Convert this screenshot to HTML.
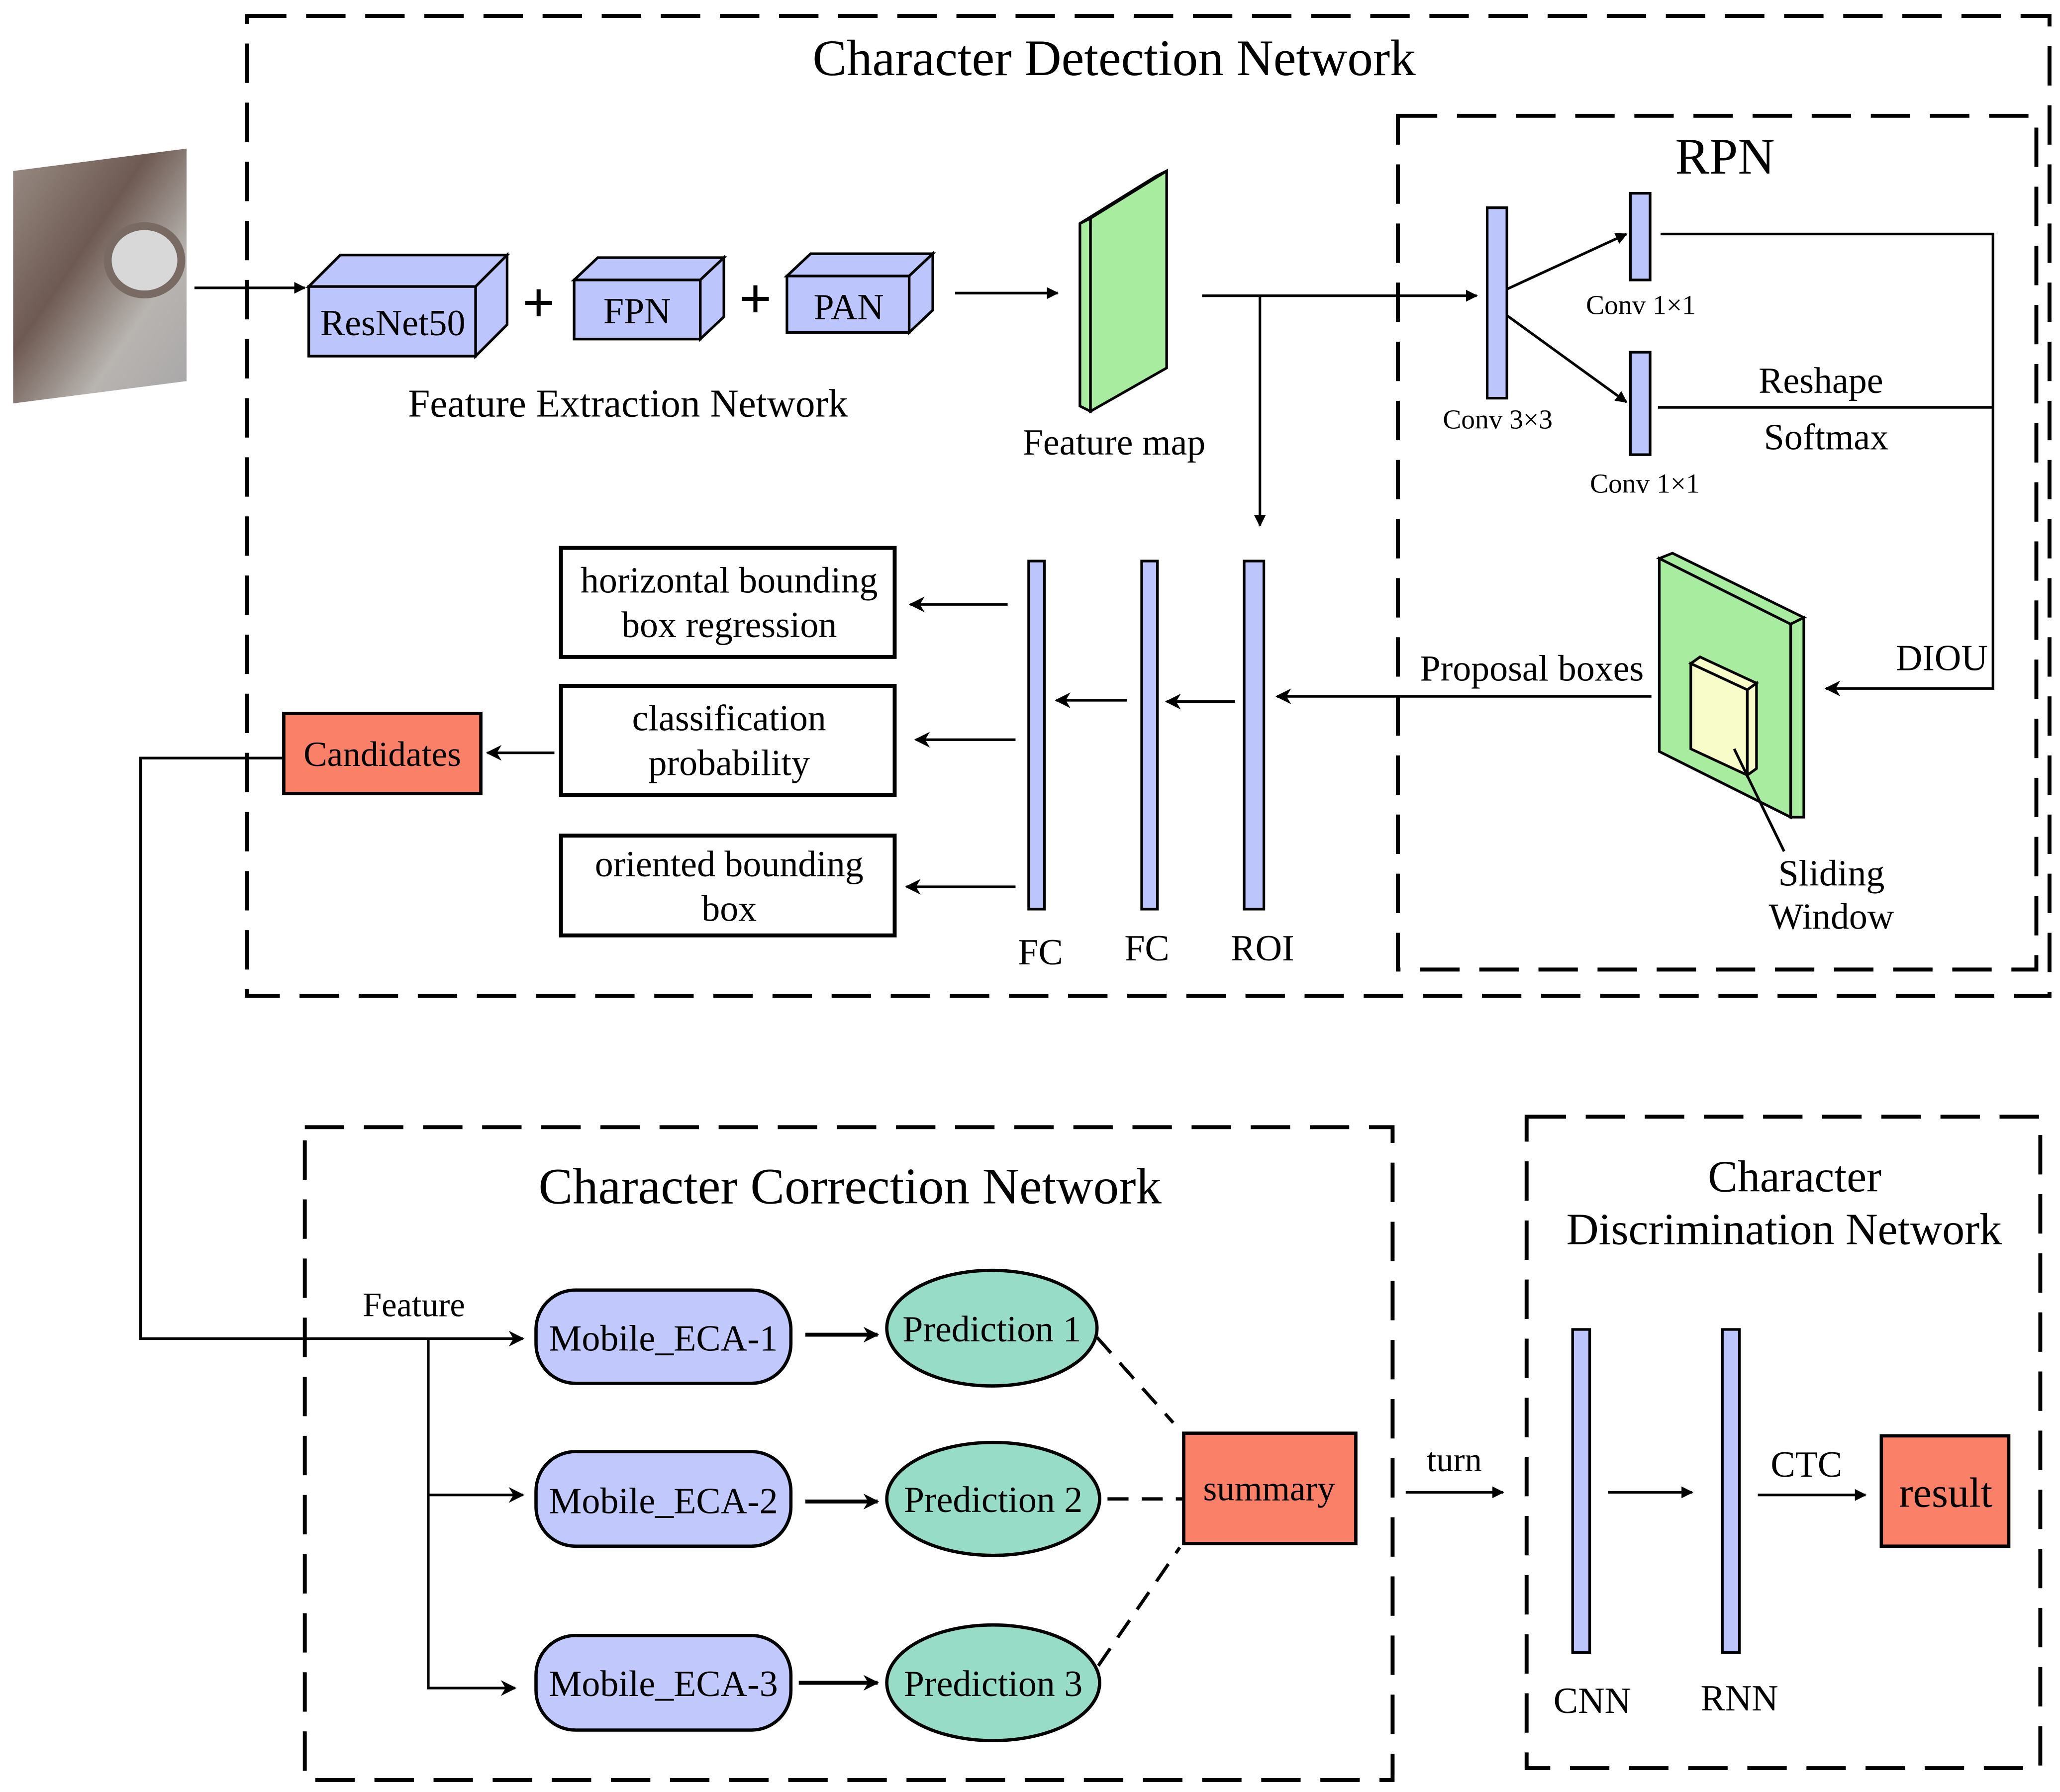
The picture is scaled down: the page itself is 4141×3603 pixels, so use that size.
<!DOCTYPE html>
<html><head><meta charset="utf-8"><style>
html,body{margin:0;padding:0;background:#fff;}
svg{display:block;}
text{font-family:"Liberation Serif",serif;fill:#000;}
</style></head><body>
<svg width="4141" height="3603" viewBox="0 0 1568 1364" xmlns="http://www.w3.org/2000/svg">
<defs>
<marker id="a" viewBox="0 0 10 10" refX="9" refY="5" markerWidth="9" markerHeight="9" markerUnits="userSpaceOnUse" orient="auto"><path d="M0,0 L10,5 L0,10 z" fill="#000"/></marker>
<marker id="b" viewBox="0 0 10 10" refX="9" refY="5" markerWidth="14" markerHeight="12" markerUnits="userSpaceOnUse" orient="auto"><path d="M0,0 L10,5 L0,10 L3,5 z" fill="#000"/></marker>
<linearGradient id="ph" x1="0" y1="0" x2="1" y2="1"><stop offset="0" stop-color="#9a8e86"/><stop offset="0.4" stop-color="#6e5a52"/><stop offset="0.7" stop-color="#b8b4b0"/><stop offset="1" stop-color="#a8a6a8"/></linearGradient>
</defs>
<g fill="none" stroke="#000" stroke-width="3" stroke-dasharray="30 15">
<rect x="188" y="12" width="1372" height="746"/>
<rect x="1064" y="88" width="486" height="650"/>
<rect x="232" y="858" width="828" height="497"/>
<rect x="1162" y="850" width="391" height="496"/>
</g>
<text x="848" y="57" font-size="39" text-anchor="middle">Character Detection Network</text>
<text x="1313" y="132" font-size="39" text-anchor="middle">RPN</text>
<polygon points="10,130 142,113 142,290 10,307" fill="url(#ph)"/>
<ellipse cx="110" cy="198" rx="28" ry="26" fill="#d8d8d8" stroke="#7a6a64" stroke-width="6"/>
<g stroke="#000" stroke-width="2" fill="none">
<line x1="148" y1="219" x2="232" y2="219" marker-end="url(#a)"/>
<line x1="727" y1="223" x2="805" y2="223" marker-end="url(#a)"/>
<line x1="915" y1="225" x2="1124" y2="225" marker-end="url(#a)"/>
<line x1="959" y1="225" x2="959" y2="400" marker-end="url(#a)"/>
<line x1="1147" y1="220" x2="1238" y2="178" marker-end="url(#a)"/>
<line x1="1147" y1="240" x2="1238" y2="306" marker-end="url(#a)"/>
<polyline points="1264,178 1517,178 1517,524 1390,524" marker-end="url(#b)"/>
<line x1="1262" y1="310" x2="1517" y2="310"/>
<line x1="1257" y1="530" x2="972" y2="530" marker-end="url(#b)"/>
<line x1="940" y1="534" x2="888" y2="534" marker-end="url(#b)"/>
<line x1="858" y1="533" x2="804" y2="533" marker-end="url(#b)"/>
<line x1="767" y1="460" x2="693" y2="460" marker-end="url(#b)"/>
<line x1="773" y1="563" x2="697" y2="563" marker-end="url(#b)"/>
<line x1="773" y1="675" x2="690" y2="675" marker-end="url(#b)"/>
<line x1="422" y1="573" x2="371" y2="573" marker-end="url(#b)"/>
<polyline points="216,577 107,577 107,1019 398,1019" marker-end="url(#b)"/>
<polyline points="326,1019 326,1285 392,1285" marker-end="url(#b)"/>
<line x1="326" y1="1138" x2="398" y2="1138" marker-end="url(#b)"/>
<line x1="613" y1="1016" x2="668" y2="1016" stroke-width="3" marker-end="url(#b)"/>
<line x1="613" y1="1143" x2="668" y2="1143" stroke-width="3" marker-end="url(#b)"/>
<line x1="608" y1="1281" x2="668" y2="1281" stroke-width="3" marker-end="url(#b)"/>
<line x1="1070" y1="1136" x2="1144" y2="1136" marker-end="url(#a)"/>
<line x1="1224" y1="1136" x2="1288" y2="1136" marker-end="url(#a)"/>
<line x1="1338" y1="1138" x2="1420" y2="1138" marker-end="url(#a)"/>
<line x1="1320" y1="570" x2="1358" y2="648"/>
</g>
<g stroke="#000" stroke-width="2.5" stroke-dasharray="16 10" fill="none">
<line x1="835" y1="1018" x2="893" y2="1083"/>
<line x1="843" y1="1141" x2="900" y2="1141"/>
<line x1="836" y1="1268" x2="898" y2="1178"/>
</g>
<g fill="#bcc6fc" stroke="#000" stroke-width="2">
<polygon points="235,218 259,194 386,194 362,218"/><polygon points="362,218 386,194 386,247 362,271"/><rect x="235" y="218" width="127" height="53"/>
<polygon points="437,213 455,196 551,196 533,213"/><polygon points="533,213 551,196 551,241 533,258"/><rect x="437" y="213" width="96" height="45"/>
<polygon points="599,210 617,193 710,193 692,210"/><polygon points="692,210 710,193 710,236 692,253"/><rect x="599" y="210" width="93" height="43"/>
<rect x="1132" y="158" width="15" height="145"/>
<rect x="1241" y="147" width="15" height="66"/>
<rect x="1241" y="268" width="15" height="78"/>
<rect x="947" y="427" width="15" height="265"/>
<rect x="869" y="427" width="12" height="265"/>
<rect x="783" y="427" width="12" height="265"/>
<rect x="1197" y="1012" width="13" height="246"/>
<rect x="1311" y="1012" width="13" height="246"/>
</g>
<text x="299" y="255" font-size="28" text-anchor="middle">ResNet50</text>
<text x="485" y="246" font-size="28" text-anchor="middle">FPN</text>
<text x="646" y="243" font-size="28" text-anchor="middle">PAN</text>
<text x="410" y="245" font-size="44" font-weight="bold" text-anchor="middle">+</text>
<text x="575" y="242" font-size="44" font-weight="bold" text-anchor="middle">+</text>
<text x="478" y="317" font-size="30" text-anchor="middle">Feature Extraction Network</text>
<g fill="#a8eca0" stroke="#000" stroke-width="2">
<polygon points="830,166 888,130 888,280 830,313"/>
<polygon points="822,170 830,166 830,313 822,309"/>
<polygon points="822,170 880,134 888,130 830,166"/>
</g>
<text x="848" y="346" font-size="28" text-anchor="middle">Feature map</text>
<text x="1140" y="326" font-size="21" text-anchor="middle">Conv 3×3</text>
<text x="1249" y="239" font-size="21" text-anchor="middle">Conv 1×1</text>
<text x="1252" y="375" font-size="21" text-anchor="middle">Conv 1×1</text>
<text x="1386" y="299" font-size="28" text-anchor="middle">Reshape</text>
<text x="1390" y="342" font-size="28" text-anchor="middle">Softmax</text>
<text x="1478" y="510" font-size="28" text-anchor="middle">DIOU</text>
<g stroke="#000" stroke-width="2">
<polygon points="1263,425 1363,475 1363,622 1263,572" fill="#a8eca0"/>
<polygon points="1263,425 1273,421 1373,470 1363,475" fill="#a8eca0"/>
<polygon points="1363,475 1373,470 1373,622 1363,622" fill="#a8eca0"/>
<polygon points="1287,505 1330,525 1330,590 1287,570" fill="#f8fcc8"/>
<polygon points="1287,505 1294,500 1337,520 1330,525" fill="#f8fcc8"/>
<polygon points="1330,525 1337,520 1337,585 1330,590" fill="#f8fcc8"/>
</g>
<line x1="1320" y1="570" x2="1358" y2="648" stroke="#000" stroke-width="2"/>
<text x="1394" y="674" font-size="28" text-anchor="middle">Sliding</text>
<text x="1394" y="707" font-size="28" text-anchor="middle">Window</text>
<text x="1166" y="518" font-size="28" text-anchor="middle">Proposal boxes</text>
<text x="961" y="731" font-size="28" text-anchor="middle">ROI</text>
<text x="873" y="731" font-size="28" text-anchor="middle">FC</text>
<text x="792" y="734" font-size="28" text-anchor="middle">FC</text>
<g fill="#fff" stroke="#000" stroke-width="3">
<rect x="427" y="417" width="254" height="83"/>
<rect x="427" y="522" width="254" height="83"/>
<rect x="427" y="636" width="254" height="76"/>
</g>
<g font-size="28" text-anchor="middle">
<text x="555" y="451">horizontal bounding</text><text x="555" y="485">box regression</text>
<text x="555" y="556">classification</text><text x="555" y="590">probability</text>
<text x="555" y="667">oriented bounding</text><text x="555" y="701">box</text>
</g>
<g fill="#fa8068" stroke="#000" stroke-width="2.5">
<rect x="216" y="543" width="150" height="61"/>
<rect x="901" y="1091" width="131" height="84"/>
<rect x="1432" y="1093" width="97" height="84"/>
</g>
<text x="291" y="583" font-size="27" text-anchor="middle">Candidates</text>
<text x="966" y="1142" font-size="27" text-anchor="middle">summary</text>
<text x="1481" y="1147" font-size="32" text-anchor="middle">result</text>
<text x="647" y="916" font-size="39" text-anchor="middle">Character Correction Network</text>
<text x="315" y="1002" font-size="26" text-anchor="middle">Feature</text>
<g fill="#c0c8fc" stroke="#000" stroke-width="2.5">
<rect x="408" y="982" width="194" height="71" rx="30"/>
<rect x="408" y="1105" width="194" height="72" rx="30"/>
<rect x="408" y="1245" width="194" height="72" rx="30"/>
</g>
<g font-size="28" text-anchor="middle">
<text x="505" y="1028">Mobile_ECA-1</text>
<text x="505" y="1152">Mobile_ECA-2</text>
<text x="505" y="1291">Mobile_ECA-3</text>
</g>
<g fill="#96dcc6" stroke="#000" stroke-width="2.5">
<ellipse cx="755" cy="1011" rx="80" ry="44"/>
<ellipse cx="756" cy="1141" rx="81" ry="43"/>
<ellipse cx="756" cy="1281" rx="81" ry="44"/>
</g>
<g font-size="28" text-anchor="middle">
<text x="755" y="1021">Prediction 1</text>
<text x="756" y="1151">Prediction 2</text>
<text x="756" y="1291">Prediction 3</text>
</g>
<text x="1107" y="1120" font-size="26" text-anchor="middle">turn</text>
<text x="1366" y="907" font-size="34" text-anchor="middle">Character</text>
<text x="1358" y="947" font-size="34" text-anchor="middle">Discrimination Network</text>
<text x="1212" y="1304" font-size="28" text-anchor="middle">CNN</text>
<text x="1324" y="1302" font-size="28" text-anchor="middle">RNN</text>
<text x="1375" y="1124" font-size="28" text-anchor="middle">CTC</text>
</svg>
</body></html>
